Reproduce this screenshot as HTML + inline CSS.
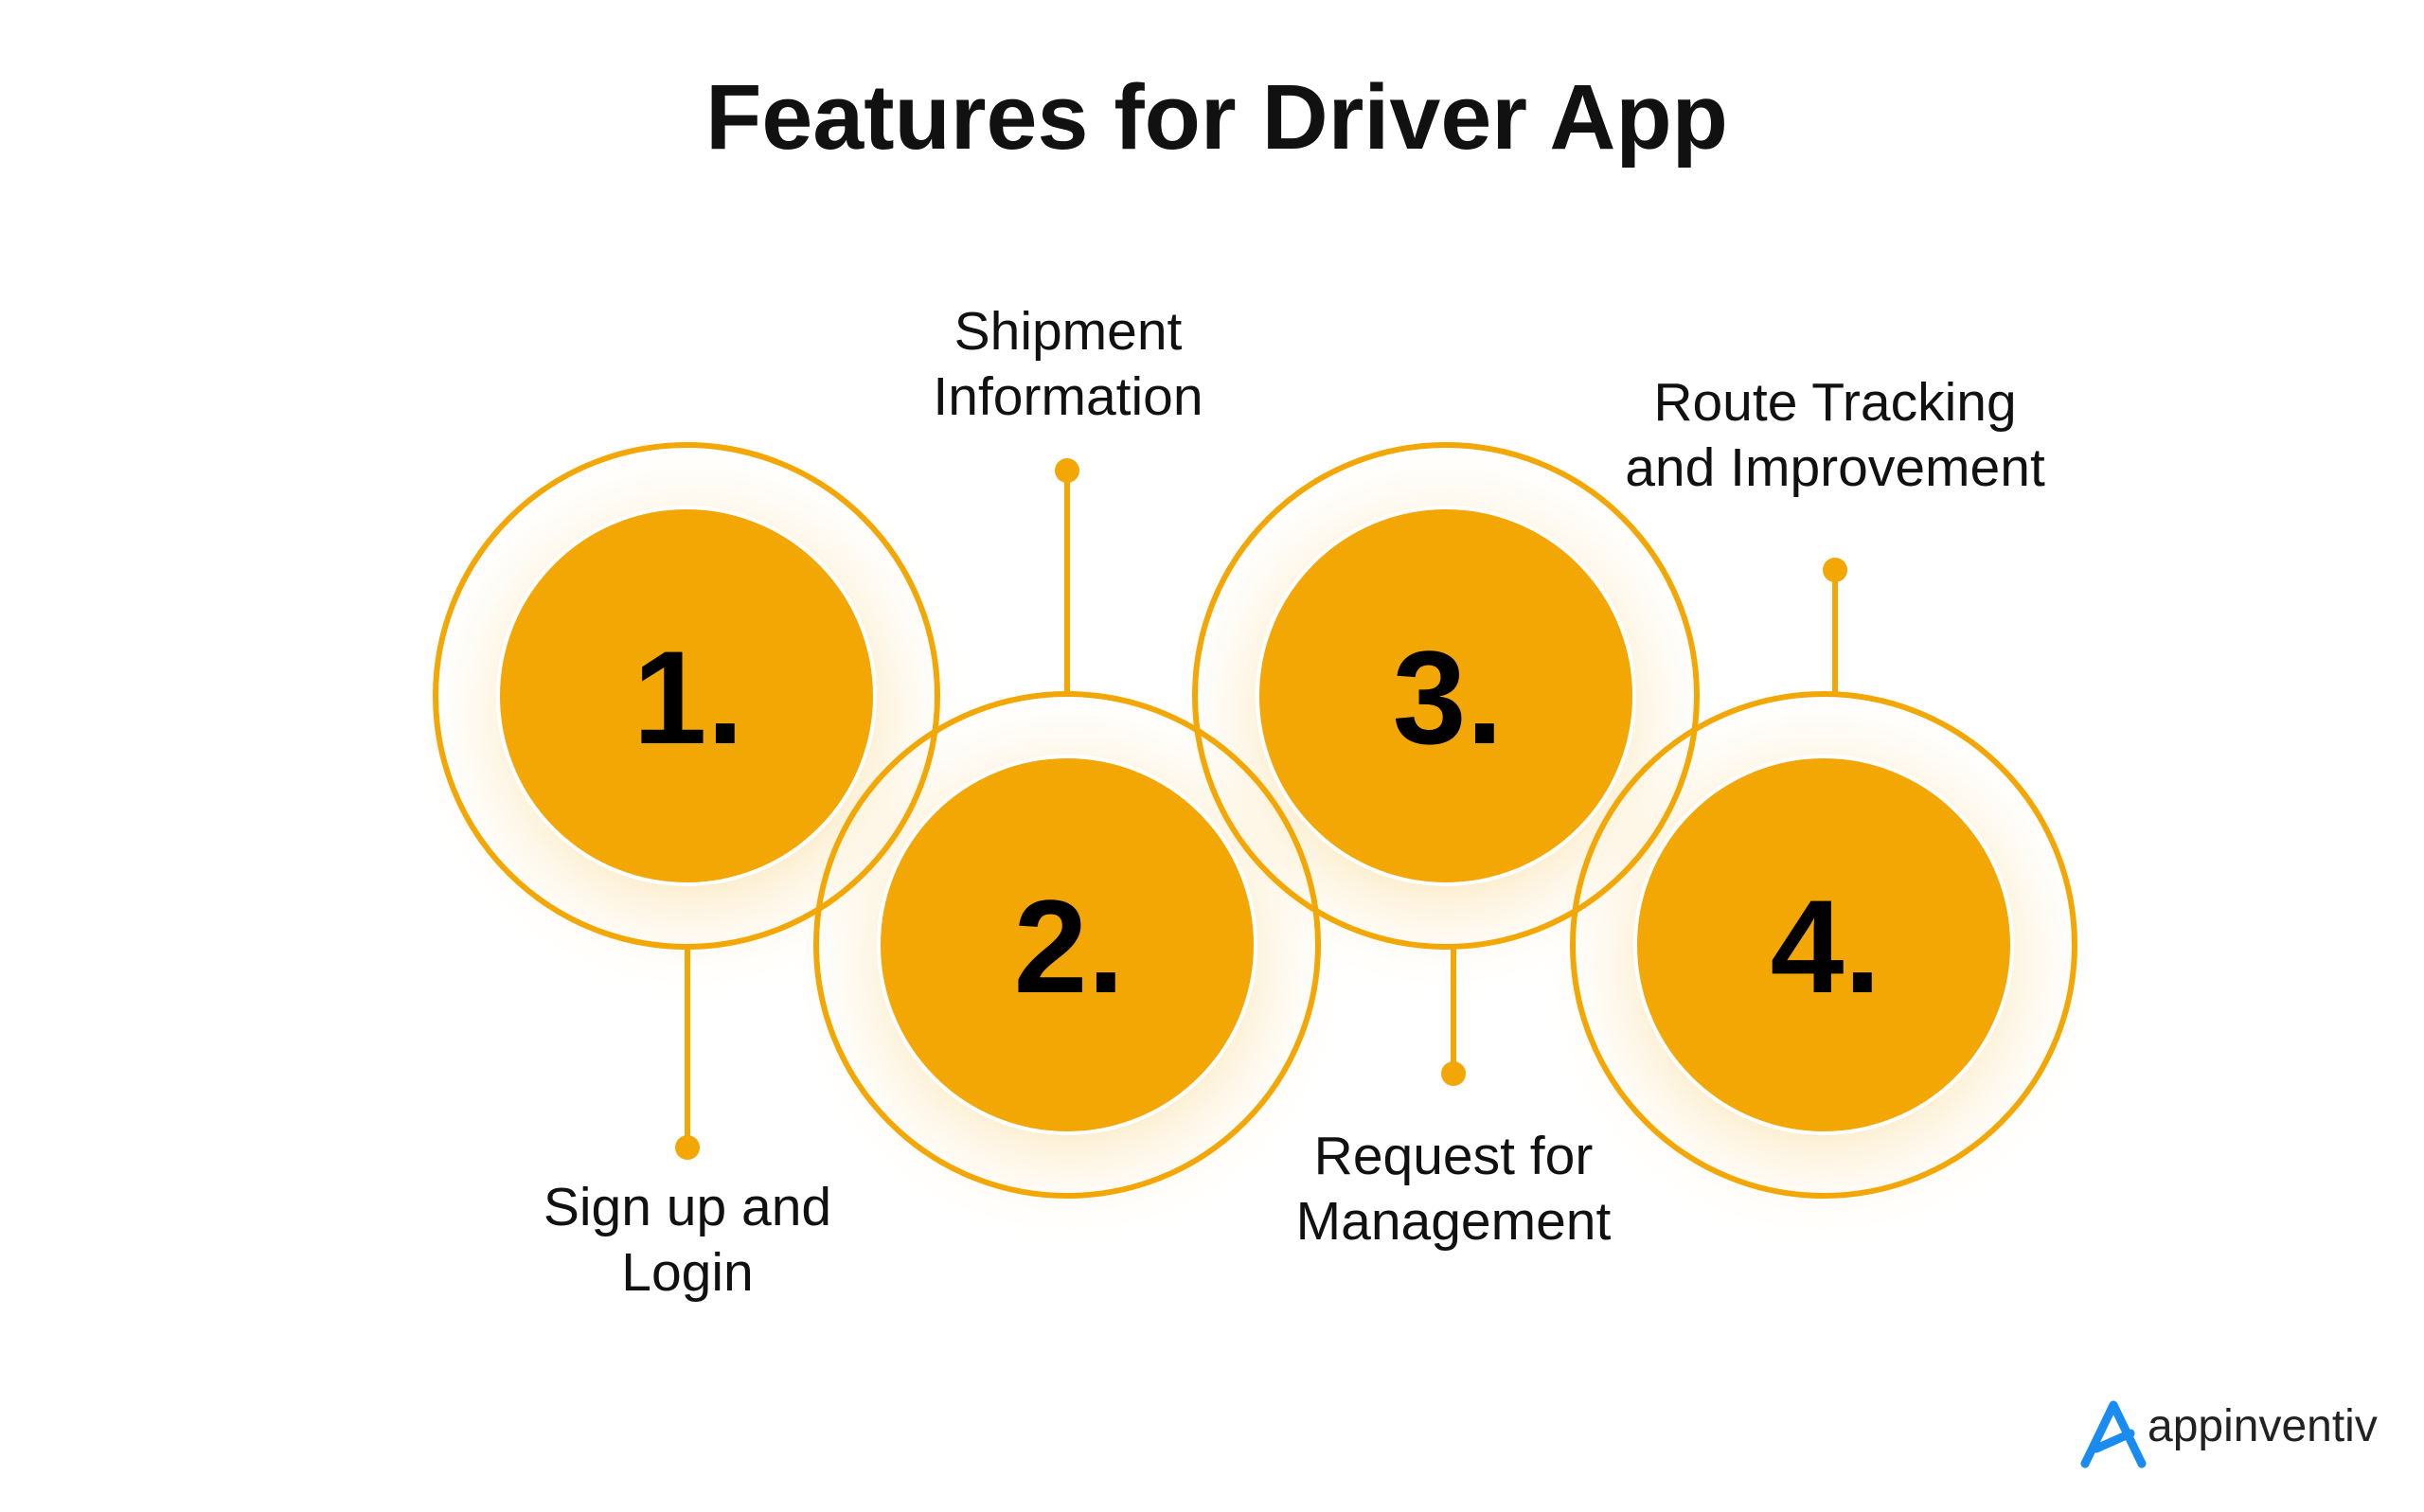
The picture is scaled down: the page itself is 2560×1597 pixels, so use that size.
<!DOCTYPE html>
<html><head><meta charset="utf-8"><style>
body{margin:0;width:2560px;height:1592px;background:#fff;overflow:hidden;font-family:"Liberation Sans",sans-serif}
</style></head><body>
<svg width="2560" height="1592" viewBox="0 0 2560 1592" xmlns="http://www.w3.org/2000/svg">
<defs>
<radialGradient id="g" cx="0.5" cy="0.5" r="0.5">
<stop offset="0.55" stop-color="#f5c45a" stop-opacity="0.35"/>
<stop offset="1" stop-color="#fff" stop-opacity="0"/>
</radialGradient>
</defs>
<text x="1285" y="157" text-anchor="middle" font-size="97" font-weight="bold" fill="#111">Features for Driver App</text>
<g fill="url(#g)">
<circle cx="732" cy="757" r="300"/><circle cx="1130" cy="1017" r="300"/>
<circle cx="1526" cy="757" r="300"/><circle cx="1924" cy="1017" r="300"/>
</g>
<g stroke="#F2A705" stroke-width="6" fill="none">
<circle cx="725" cy="735" r="265"/><circle cx="1127" cy="998" r="265"/>
<circle cx="1527" cy="735" r="265"/><circle cx="1926" cy="998" r="265"/>
<line x1="726" y1="1000" x2="726" y2="1212"/>
<line x1="1127" y1="497" x2="1127" y2="735"/>
<line x1="1535" y1="1000" x2="1535" y2="1134"/>
<line x1="1938" y1="602" x2="1938" y2="735"/>
</g>
<g fill="#F2A705" stroke="#fff" stroke-width="4">
<circle cx="725" cy="735" r="199"/><circle cx="1127" cy="998" r="199"/>
<circle cx="1527" cy="735" r="199"/><circle cx="1926" cy="998" r="199"/>
</g>
<g fill="#F2A705">
<circle cx="726" cy="1212" r="13"/><circle cx="1127" cy="497" r="13"/>
<circle cx="1535" cy="1134" r="13"/><circle cx="1938" cy="602" r="13"/>
</g>
<g font-size="140" font-weight="bold" fill="#000" text-anchor="middle">
<text x="727" y="785">1.</text><text x="1129" y="1048">2.</text>
<text x="1529" y="785">3.</text><text x="1928" y="1048">4.</text>
</g>
<g font-size="57" fill="#111" text-anchor="middle">
<text x="726" y="1294">Sign up and</text><text x="726" y="1363">Login</text>
<text x="1128" y="369">Shipment</text><text x="1128" y="438">Information</text>
<text x="1535" y="1240">Request for</text><text x="1535" y="1309">Management</text>
<text x="1938" y="444">Route Tracking</text><text x="1938" y="513">and Improvement</text>
</g>
<path d="M2202 1546 L2232 1484 L2262 1546 M2214 1530 L2250 1514" stroke="#1a8cf0" stroke-width="9" fill="none" stroke-linecap="round" stroke-linejoin="round"/>
<text x="2268" y="1522" font-size="48" fill="#222">appinventiv</text>
</svg>
</body></html>
